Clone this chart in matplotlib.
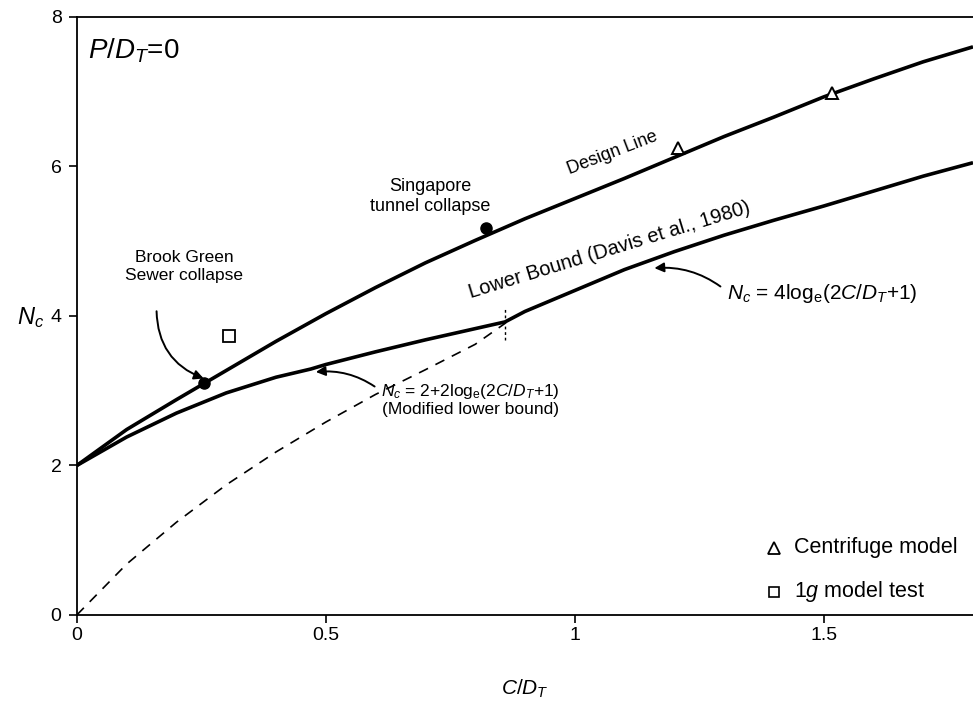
import matplotlib
matplotlib.use("Agg")
import matplotlib.pyplot as plt

plt.rcParams['font.family'] = ['Liberation Sans', 'DejaVu Sans']
plt.rcParams['mathtext.fontset'] = 'custom'
plt.rcParams['mathtext.rm'] = 'Liberation Sans'
plt.rcParams['mathtext.it'] = 'Liberation Sans:italic'
plt.rcParams['mathtext.bf'] = 'Liberation Sans:bold'

# Data
design_x = [0, 0.1, 0.2, 0.3, 0.4, 0.5, 0.6, 0.7, 0.8, 0.9, 1.0, 1.1, 1.2, 1.3, 1.4, 1.5, 1.6, 1.7, 1.8]
design_y = [2.0, 2.48, 2.88, 3.27, 3.66, 4.03, 4.38, 4.71, 5.01, 5.3, 5.57, 5.84, 6.12, 6.4, 6.66, 6.93, 7.17, 7.4, 7.6]

lower_x = [0, 0.1, 0.2, 0.3, 0.4, 0.47, 0.5, 0.6, 0.7, 0.8, 0.86, 0.9, 1.0, 1.1, 1.2, 1.3, 1.4, 1.5, 1.6, 1.7, 1.8]
lower_y = [2.0, 2.38, 2.7, 2.97, 3.18, 3.29, 3.35, 3.52, 3.68, 3.83, 3.92, 4.06, 4.34, 4.62, 4.86, 5.08, 5.28, 5.47, 5.67, 5.87, 6.05]

dashed_x = [0, 0.1, 0.2, 0.3, 0.4, 0.5, 0.6, 0.7, 0.8, 0.86]
dashed_y = [0.0, 0.68, 1.24, 1.74, 2.18, 2.58, 2.95, 3.28, 3.62, 3.9]

field_x = [0.255, 0.821]          # Brook Green, Singapore
field_y = [3.10, 5.18]
centrifuge_x = [1.207, 1.516]
centrifuge_y = [6.25, 6.98]
model1g_x = [0.305]
model1g_y = [3.73]

x_ticks = [0, 0.5, 1, 1.5]
x_tick_labels = ['0', '0.5', '1', '1.5']
y_ticks = [0, 2, 4, 6, 8]

fig = plt.figure(figsize=(9.73, 7.06), dpi=100)
ax = fig.add_axes([0.079, 0.129, 0.921, 0.847])

ax.plot(design_x, design_y, color='black', lw=2.6, solid_capstyle='butt')
ax.plot(lower_x, lower_y, color='black', lw=2.6, solid_capstyle='butt')
ax.plot(dashed_x, dashed_y, color='black', lw=1.2, dashes=(6, 5))
ax.plot([0.86, 0.86], [3.68, 4.1], color='black', lw=1.0, ls=(0, (2, 2)))

ax.plot(field_x, field_y, 'o', color='black', ms=8, zorder=5)
ax.plot(centrifuge_x, centrifuge_y, '^', mfc='white', mec='black', mew=1.4, ms=9, zorder=5)
ax.plot(model1g_x, model1g_y, 's', mfc='white', mec='black', mew=1.3, ms=8, zorder=5)

ax.set_xlim(0, 1.8)
ax.set_ylim(0, 8)
ax.set_xticks(x_ticks)
ax.set_xticklabels(x_tick_labels)
ax.set_yticks(y_ticks)
ax.tick_params(axis='both', direction='out', length=6, width=1.2, labelsize=14)
ax.tick_params(axis='x', pad=3)
ax.tick_params(axis='y', pad=5)
for s in ['left', 'bottom', 'top']:
    ax.spines[s].set_linewidth(1.3)
ax.spines['right'].set_visible(False)

ax.set_xlabel(r'$C/D_T$', fontsize=15, labelpad=24)
ax.set_ylabel(r'$N_c$', fontsize=17, rotation=0, va='center')
ax.yaxis.set_label_coords(-0.052, 0.497)

ax.text(0.022, 7.55, r'$P/D_T$=0', fontsize=20, ha='left', va='center')

ax.text(1.075, 6.18, 'Design Line', fontsize=13, rotation=21, ha='center', va='center')
ax.text(0.71, 5.6, 'Singapore\ntunnel collapse', fontsize=13, ha='center', va='center', linespacing=1.25)
ax.text(0.215, 4.66, 'Brook Green\nSewer collapse', fontsize=12.5, ha='center', va='center', linespacing=1.25)
ax.text(1.07, 4.88, 'Lower Bound (Davis et al., 1980)', fontsize=14.5, rotation=17, ha='center', va='center')

ax.annotate('', xy=(0.26, 3.15), xytext=(0.16, 4.1),
            arrowprops=dict(arrowstyle='-|>', color='black', lw=1.4,
                            connectionstyle='arc3,rad=0.35', mutation_scale=14))
ax.annotate(r'$N_c$ = 4log$_\mathrm{e}$(2$C/D_T$+1)', xy=(1.16, 4.64), xytext=(1.305, 4.3),
            fontsize=15, ha='left', va='center',
            arrowprops=dict(arrowstyle='-|>', color='black', lw=1.4,
                            connectionstyle='arc3,rad=0.2', mutation_scale=14,
                            shrinkA=3, shrinkB=0, relpos=(0.0, 0.6)))
ax.annotate(r'$N_c$ = 2+2log$_\mathrm{e}$(2$C/D_T$+1)' + '\n(Modified lower bound)',
            xy=(0.48, 3.25), xytext=(0.79, 2.88),
            fontsize=12.5, ha='center', va='center', linespacing=1.05,
            arrowprops=dict(arrowstyle='-|>', color='black', lw=1.4,
                            connectionstyle='arc3,rad=0.2', mutation_scale=14,
                            shrinkA=3, shrinkB=0,
                            relpos=(0.0, 0.75)))

# legend-like labels
ax.plot([1.40], [0.9], '^', mfc='white', mec='black', mew=1.3, ms=8)
ax.text(1.44, 0.9, 'Centrifuge model', fontsize=15.5, ha='left', va='center')
ax.plot([1.40], [0.31], 's', mfc='white', mec='black', mew=1.2, ms=7)
ax.text(1.44, 0.31, r'1$g$ model test', fontsize=15.5, ha='left', va='center')

fig.savefig('out.png', dpi=100)
